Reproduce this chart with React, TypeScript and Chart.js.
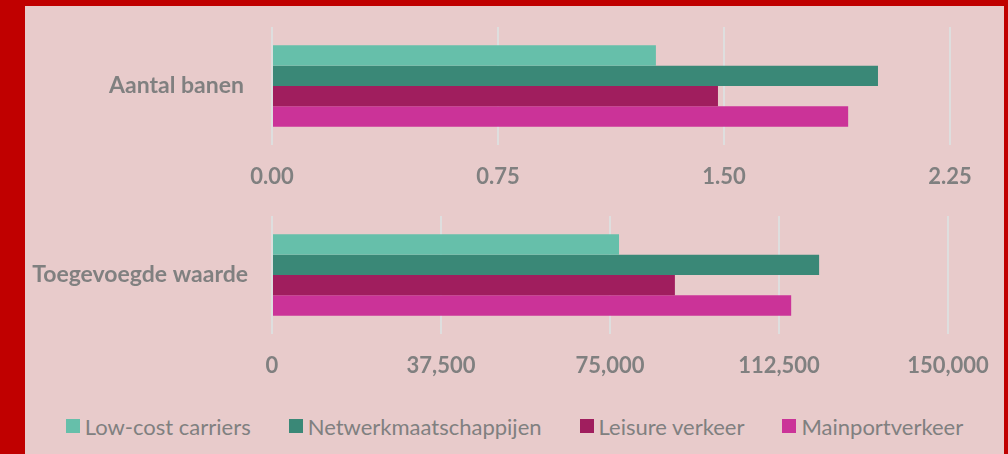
import React, { useEffect, useRef } from "react";
import { Chart, registerables } from "chart.js";

Chart.register(...registerables);

const seriesNames = ["Low-cost carriers", "Netwerkmaatschappijen", "Leisure verkeer", "Mainportverkeer"];
const seriesColors = ["#66bfaa", "#3a8877", "#a01e5e", "#cb3398"];

const jobsCategory = ["Aantal banen"];
const jobsValues = [1.274, 2.011, 1.48, 1.912];
const jobsTicks = [0, 0.75, 1.5, 2.25];

const valueCategory = ["Toegevoegde waarde"];
const valueValues = [77000, 121400, 89400, 115200];
const valueTicks = [0, 37500, 75000, 112500, 150000];

const GRAY = "#808080";
const FONT = "Lato, 'Open Sans', sans-serif";

function makeConfig(
  labels: string[],
  values: number[],
  ticks: number[],
  fmt: (v: number) => string,
  rightPad: number,
  yPad: number
): any {
  const max = ticks[ticks.length - 1];
  const step = ticks[1] - ticks[0];
  return {
    type: "bar",
    data: {
      labels,
      datasets: seriesNames.map((name, i) => ({
        label: name,
        data: [values[i]],
        backgroundColor: seriesColors[i],
        borderWidth: 0,
        barPercentage: 1,
        categoryPercentage: 0.69,
      })),
    },
    options: {
      indexAxis: "y",
      responsive: false,
      animation: false,
      devicePixelRatio: 1,
      layout: { padding: { left: 0, right: rightPad, top: 27, bottom: 0 } },
      plugins: { legend: { display: false }, tooltip: { enabled: false } },
      scales: {
        x: {
          min: 0,
          max,
          afterBuildTicks: (scale: any) => {
            scale.ticks = ticks.map((v) => ({ value: v }));
          },
          afterFit: (scale: any) => {
            scale.height = 55;
            scale.paddingLeft = 0;
            scale.paddingRight = 0;
          },
          grid: { color: "#dedede", lineWidth: 2, drawTicks: false },
          border: { display: false },
          ticks: {
            stepSize: step,
            padding: 19,
            color: GRAY,
            font: { family: FONT, size: 22, weight: "bold" },
            maxRotation: 0,
            callback: (v: any) => fmt(Number(v)),
          },
        },
        y: {
          afterFit: (scale: any) => {
            scale.width = 272;
            scale.paddingTop = 0;
            scale.paddingBottom = 0;
          },
          grid: { display: false, drawTicks: false },
          border: { display: false },
          ticks: {
            padding: yPad,
            color: GRAY,
            font: { family: FONT, size: 23, weight: "bold" },
          },
        },
      },
    },
  };
}

function BarPanel(props: {
  top: number;
  labels: string[];
  values: number[];
  ticks: number[];
  fmt: (v: number) => string;
  rightPad: number;
  yPad: number;
}) {
  const ref = useRef<HTMLCanvasElement | null>(null);
  useEffect(() => {
    if (!ref.current) return;
    const chart = new Chart(
      ref.current,
      makeConfig(props.labels, props.values, props.ticks, props.fmt, props.rightPad, props.yPad)
    );
    return () => chart.destroy();
  }, []);
  return (
    <canvas
      ref={ref}
      width={1008}
      height={200}
      style={{ position: "absolute", left: 0, top: props.top, width: 1008, height: 200 }}
    />
  );
}

export default function App() {
  const fmt2 = (v: number) => v.toFixed(2);
  const fmtK = (v: number) => v.toLocaleString("en-US");
  return (
    <div
      style={{
        position: "fixed",
        left: 0,
        top: 0,
        width: 1008,
        height: 454,
        background: "#c00000",
        overflow: "hidden",
      }}
    >
      <div
        style={{
          position: "absolute",
          left: 25,
          top: 6,
          width: 979,
          height: 448,
          background: "#e8cbcb",
        }}
      />
      <BarPanel top={0} labels={jobsCategory} values={jobsValues} ticks={jobsTicks} fmt={fmt2} rightPad={58} yPad={28} />
      <BarPanel top={189} labels={valueCategory} values={valueValues} ticks={valueTicks} fmt={fmtK} rightPad={60} yPad={24} />
      <div
        style={{
          position: "absolute",
          left: 25,
          width: 979,
          top: 411,
          height: 30,
          display: "flex",
          justifyContent: "center",
          alignItems: "center",
          gap: 38,
          fontFamily: FONT,
          fontSize: 22,
          color: GRAY,
          whiteSpace: "nowrap",
        }}
      >
        {seriesNames.map((name, i) => (
          <div key={name} style={{ display: "flex", alignItems: "center" }}>
            <span
              style={{
                display: "inline-block",
                width: 14,
                height: 14,
                background: seriesColors[i],
                marginRight: 5,
              }}
            />
            <span>{name}</span>
          </div>
        ))}
      </div>
    </div>
  );
}
